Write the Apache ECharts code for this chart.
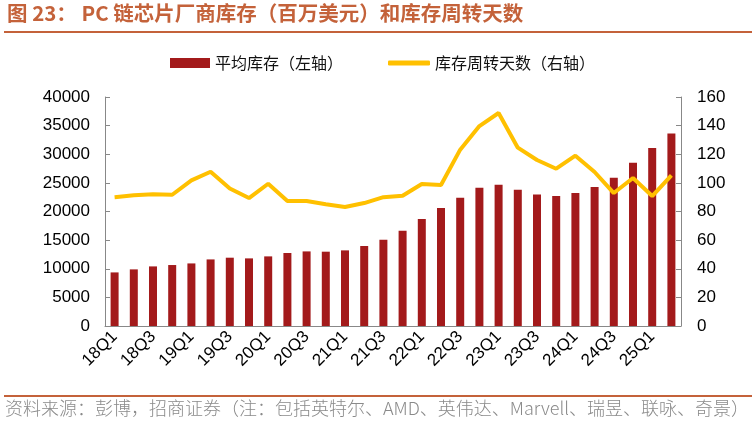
<!DOCTYPE html>
<html>
<head>
<meta charset="utf-8">
<script src="https://cdn.jsdelivr.net/npm/echarts@6/dist/echarts.min.js"></script>
<style>
  body { margin: 0; background: #fff; }
  #main { width: 756px; height: 424px; }
</style>
</head>
<body>
<div id="main"></div>
<script>
var quarters = [
    '18Q1', '18Q2', '18Q3', '18Q4', '19Q1', '19Q2', '19Q3', '19Q4',
    '20Q1', '20Q2', '20Q3', '20Q4', '21Q1', '21Q2', '21Q3', '21Q4',
    '22Q1', '22Q2', '22Q3', '22Q4', '23Q1', '23Q2', '23Q3', '23Q4',
    '24Q1', '24Q2', '24Q3', '24Q4', '25Q1', '25Q2'
];
// 平均库存（百万美元）
var inventory = [
    9360, 9890, 10410, 10650, 10930, 11630, 11930, 11810,
    12160, 12750, 13030, 12980, 13210, 13970, 15070, 16650,
    18690, 20610, 22410, 24160, 24680, 23810, 22990, 22710,
    23230, 24280, 25900, 28520, 31090, 33640
];
// 库存周转天数
var turnoverDays = [
    90, 91.3, 92, 91.7, 101.7, 107.8, 96.1, 89.4,
    99.4, 87.3, 87.3, 85, 83.1, 85.9, 90, 91,
    99.2, 98.5, 123.2, 139.7, 148.8, 124.6, 116, 109.9,
    119, 107.6, 92.9, 103.4, 90.8, 105.2
];
var leftTicks = [0, 40000, 5000];
var rightTicks = [0, 160, 20];

var cjk = '"Noto Sans CJK SC", sans-serif';
var latin = '"Liberation Sans", Arial, sans-serif';
var titleColor = '#C4623A';

var chart = echarts.init(document.getElementById('main'));
var option = {
    animation: false,
    graphic: [
        {
            type: 'text', left: 7, top: 3,
            style: { text: '图 23： PC 链芯片厂商库存（百万美元）和库存周转天数', fill: titleColor,
                font: 'bold 20.5px ' + cjk }
        },
        { type: 'rect', shape: { x: 4, y: 31, width: 748, height: 2 }, style: { fill: titleColor } },
        { type: 'rect', shape: { x: 4, y: 395, width: 748, height: 2 }, style: { fill: titleColor } },
        {
            type: 'text', left: 5, top: 399,
            style: { text: '资料来源：彭博，招商证券（注：包括英特尔、AMD、英伟达、Marvell、瑞昱、联咏、奇景）',
                fill: '#8a8a8a', font: '300 18px ' + cjk }
        }
    ],
    legend: [
        {
            top: 50, left: 165,
            itemWidth: 40, itemHeight: 10, itemGap: 6,
            textStyle: { fontFamily: cjk, fontSize: 16, color: '#111' },
            data: [{ name: '平均库存（左轴）', icon: 'rect' }]
        },
        {
            top: 50, left: 383,
            itemWidth: 42, itemHeight: 5, itemGap: 6,
            textStyle: { fontFamily: cjk, fontSize: 16, color: '#111' },
            data: [{ name: '库存周转天数（右轴）', icon: 'roundRect' }]
        }
    ],
    grid: { left: 105, right: 75, top: 97, bottom: 98 },
    xAxis: {
        type: 'category',
        data: quarters,
        axisLine: { lineStyle: { color: '#888' } },
        axisTick: { inside: true, length: 5, lineStyle: { color: '#888' } },
        axisLabel: { interval: 1, rotate: 45, fontFamily: latin, fontSize: 17, color: '#000', margin: 8 }
    },
    yAxis: [
        {
            type: 'value', min: leftTicks[0], max: leftTicks[1], interval: leftTicks[2],
            axisLine: { show: true, lineStyle: { color: '#888' } },
            axisTick: { show: true, inside: true, length: 5, lineStyle: { color: '#888' } },
            splitLine: { show: false },
            axisLabel: { fontFamily: latin, fontSize: 17, color: '#000', margin: 15,
                formatter: function (v) { return String(v); } }
        },
        {
            type: 'value', min: rightTicks[0], max: rightTicks[1], interval: rightTicks[2],
            axisLine: { show: true, lineStyle: { color: '#888' } },
            axisTick: { show: true, inside: true, length: 5, lineStyle: { color: '#888' } },
            splitLine: { show: false },
            axisLabel: { fontFamily: latin, fontSize: 17, color: '#000', margin: 16 }
        }
    ],
    series: [
        {
            name: '平均库存（左轴）',
            type: 'bar',
            yAxisIndex: 0,
            barWidth: 8,
            itemStyle: { color: '#A31A1B' },
            data: inventory
        },
        {
            name: '库存周转天数（右轴）',
            type: 'line',
            yAxisIndex: 1,
            symbol: 'none',
            lineStyle: { color: '#FFC000', width: 4 },
            itemStyle: { color: '#FFC000' },
            data: turnoverDays
        }
    ]
};
chart.setOption(option);
</script>
</body>
</html>
